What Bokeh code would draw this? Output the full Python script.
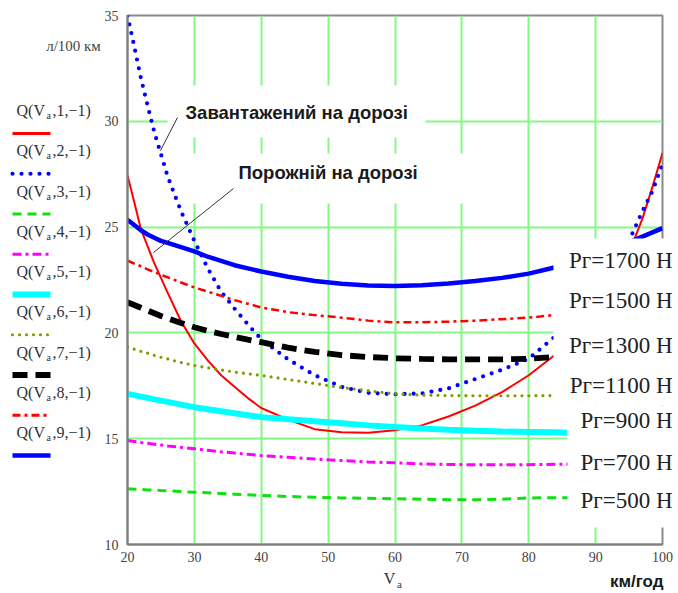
from bokeh.plotting import figure
from bokeh.models import Range1d, FixedTicker
from bokeh.embed import file_html
from bokeh.resources import INLINE
from bokeh.core.properties import value

# ---------------- data ----------------
x_ticks = [20, 30, 40, 50, 60, 70, 80, 90, 100]
y_ticks = [10, 15, 20, 25, 30, 35]

va = [20, 21, 22, 23, 24, 25, 26, 28, 30, 32, 34, 36, 38, 40, 44, 48, 52, 56, 60, 64, 68, 72, 76, 80, 84]
va_long = va + [86]
va_tail = [95.5, 97, 98.5, 100]

q1 = [27.44, 26.2, 24.9, 24.1, 23.3, 22.6, 21.9, 20.55, 19.5, 18.7, 18.0, 17.45, 16.92, 16.45,
      15.9, 15.45, 15.3, 15.28, 15.4, 15.63, 16.05, 16.56, 17.2, 18.0, 18.98]
q1_tail = [24.2, 25.4, 26.9, 28.5]
q2 = [35.0, 33.55, 32.05, 30.75, 29.5, 28.45, 27.4, 25.75, 24.35, 23.05, 21.95, 21.15, 20.4, 19.7,
      18.75, 18.0, 17.45, 17.17, 17.1, 17.14, 17.38, 17.82, 18.26, 18.78, 19.85]
q2_tail = [24.7, 25.75, 26.7, 28.0]
q3 = [12.63, 12.61, 12.6, 12.58, 12.57, 12.55, 12.54, 12.5, 12.47, 12.44, 12.41, 12.38, 12.35, 12.32,
      12.27, 12.23, 12.2, 12.18, 12.16, 12.14, 12.12, 12.11, 12.14, 12.2, 12.21, 12.21]
q4 = [14.91, 14.87, 14.82, 14.78, 14.74, 14.7, 14.66, 14.59, 14.52, 14.45, 14.38, 14.32, 14.26, 14.2,
      14.12, 14.04, 13.97, 13.9, 13.86, 13.81, 13.78, 13.77, 13.77, 13.77, 13.79, 13.8]
q5 = [17.12, 17.06, 16.99, 16.93, 16.86, 16.8, 16.74, 16.61, 16.49, 16.39, 16.3, 16.2, 16.11, 16.02,
      15.92, 15.82, 15.73, 15.63, 15.55, 15.48, 15.42, 15.37, 15.34, 15.32, 15.3, 15.28]
q6 = [19.33, 19.23, 19.13, 19.04, 18.94, 18.85, 18.77, 18.6, 18.46, 18.35, 18.25, 18.15, 18.07, 17.99,
      17.8, 17.61, 17.42, 17.27, 17.12, 17.06, 17.04, 17.03, 17.03, 17.03, 17.04]
q7 = [21.45, 21.32, 21.19, 21.06, 20.93, 20.8, 20.69, 20.47, 20.27, 20.1, 19.95, 19.81, 19.68, 19.56,
      19.3, 19.1, 18.95, 18.86, 18.8, 18.77, 18.75, 18.75, 18.75, 18.78, 18.87]
q8 = [23.42, 23.28, 23.15, 23.0, 22.88, 22.75, 22.63, 22.38, 22.15, 21.95, 21.75, 21.55, 21.38, 21.2,
      20.98, 20.84, 20.72, 20.58, 20.5, 20.5, 20.53, 20.58, 20.65, 20.72, 20.85]
q9 = [25.35, 25.1, 24.85, 24.65, 24.5, 24.35, 24.25, 24.05, 23.85, 23.6, 23.4, 23.2, 23.05, 22.9,
      22.65, 22.45, 22.32, 22.24, 22.22, 22.25, 22.33, 22.45, 22.6, 22.8, 23.1]
q9_tail = [24.35, 24.55, 24.75, 24.95]

force_labels = ["Рг=1700 Н", "Рг=1500 Н", "Рг=1300 Н", "Рг=1100 Н", "Рг=900 Н", "Рг=700 Н", "Рг=500 Н"]
note_loaded = "Завантажений на дорозі"
note_empty = "Порожній на дорозі"
y_unit = "л/100 км"
x_unit = "км/год"

# ---------------- styles ----------------
series = [
    (va, q1, va_tail, q1_tail),
    (va, q2, va_tail, q2_tail),
    (va_long, q3, None, None),
    (va_long, q4, None, None),
    (va_long, q5, None, None),
    (va, q6, None, None),
    (va, q7, None, None),
    (va, q8, None, None),
    (va, q9, va_tail, q9_tail),
]
styles = [
    dict(line_color="#FF0000", line_width=2, line_dash="solid"),
    dict(line_color="#0000FF", line_width=4.2, line_dash="0 9", line_cap="round"),
    dict(line_color="#10E010", line_width=3, line_dash="9 6"),
    dict(line_color="#FF00FF", line_width=3, line_dash="9 4 3 4"),
    dict(line_color="#00FFFF", line_width=6, line_dash="solid"),
    dict(line_color="#809B00", line_width=3.2, line_dash="0 7", line_cap="round"),
    dict(line_color="#000000", line_width=5.8, line_dash="15 8"),
    dict(line_color="#FF0000", line_width=2.5, line_dash="8 4 3 4"),
    dict(line_color="#0000FF", line_width=4.5, line_dash="solid"),
]

# ---------------- geometry ----------------
W, H = 676, 592
ML, MR, MT, MB = 127, W - 662, 15, H - 544
X0, X1 = x_ticks[0], x_ticks[-1]
Y0, Y1 = y_ticks[0], y_ticks[-1]
SX = (W - ML - MR) / (X1 - X0)
SY = (H - MT - MB) / (Y1 - Y0)


def px2x(px):
    return X0 + (px - ML) / SX


def py2y(py):
    return Y1 - (py - MT) / SY


p = figure(width=W, height=H, x_range=Range1d(X0, X1), y_range=Range1d(Y0, Y1),
           output_backend="svg", toolbar_location=None,
           min_border_left=ML, min_border_right=MR, min_border_top=MT, min_border_bottom=MB)
p.background_fill_color = "white"
p.border_fill_color = "white"
p.outline_line_color = "#8a8a8a"
p.outline_line_width = 2

for ax, ticks in ((p.xaxis, x_ticks), (p.yaxis, y_ticks)):
    ax.ticker = FixedTicker(ticks=ticks)
    ax.axis_line_color = "#808080"
    ax.axis_line_width = 2
    ax.major_tick_line_color = None
    ax.minor_tick_line_color = None
    ax.major_label_text_font = "Liberation Serif"
    ax.major_label_text_font_size = "14px"
    ax.major_label_text_color = "#444444"
p.xaxis.major_label_standoff = 1
p.yaxis.major_label_standoff = 3

p.xgrid.ticker = FixedTicker(ticks=x_ticks[1:-1])
p.ygrid.ticker = FixedTicker(ticks=y_ticks[1:-1])
for g in (p.xgrid, p.ygrid):
    g.grid_line_color = "#84F884"
    g.grid_line_width = 2

# data lines
for (xs, ys, xt, yt), st in zip(series, styles):
    p.line(xs, ys, **st)
    if xt is not None:
        p.line(xt, yt, **st)

# white text-region backgrounds (as in the original worksheet)
boxes = [
    (167, 425, 85, 137),
    (190, 480, 153, 203),
    (553, 700, 238, 405),
    (567, 700, 405, 527),
]
bl, br, bt, bb = zip(*boxes)
p.quad(left=[px2x(v) for v in bl], right=[px2x(v) for v in br],
       top=[py2y(v) for v in bt], bottom=[py2y(v) for v in bb],
       fill_color="white", line_color=None, level="overlay")

# leader lines
p.segment(x0=[px2x(177), px2x(233)], y0=[py2y(117), py2y(188)],
          x1=[px2x(160), px2x(153)], y1=[py2y(150), py2y(252)],
          line_color="#333333", line_width=1, level="overlay")


def put_text(xs, ys, texts, font, size, color="#222222", align="left", style="normal"):
    p.text(x=xs, y=ys, text=texts, text_font=value(font), text_font_size=value(size),
           text_color=color, text_align=align, text_baseline="middle",
           text_font_style=style, level="overlay")


NOTE_FONT = "Liberation Sans"
put_text([px2x(185), px2x(238)], [py2y(112), py2y(172)], [note_loaded, note_empty],
         NOTE_FONT, "18.5px", "#1a1a1a", style="bold")

force_y = [260, 300, 345, 385, 420, 462, 500]
put_text([px2x(672)] * len(force_labels), [py2y(v) for v in force_y], force_labels,
         "Liberation Serif", "23px", "#222222", align="right")

# legend (left of plot)
leg_ty = [110 + 40.25 * i for i in range(len(styles))]
put_text([px2x(16)] * 9, [py2y(t) for t in leg_ty], ["Q(V"] * 9, "Liberation Serif", "16px", "#333333")
put_text([px2x(46)] * 9, [py2y(t + 5) for t in leg_ty], ["a"] * 9, "Liberation Serif", "10px", "#333333")
put_text([px2x(52)] * 9, [py2y(t) for t in leg_ty], [f",{i + 1},\u22121)" for i in range(9)],
         "Liberation Serif", "16px", "#333333")
for t, st in zip(leg_ty, styles):
    lw = max(st["line_width"], 3)
    p.line([px2x(12), px2x(50)], [py2y(t + 23), py2y(t + 23)], level="overlay",
           **{**st, "line_width": lw})

# axis captions
put_text([px2x(73)], [py2y(45)], [y_unit], "Liberation Serif", "15px", "#444444", align="center")
put_text([px2x(389)], [py2y(578)], ["V"], "Liberation Serif", "16px", "#333333", align="center")
put_text([px2x(399)], [py2y(583)], ["a"], "Liberation Serif", "11px", "#333333", align="center")
put_text([px2x(663)], [py2y(581)], [x_unit], NOTE_FONT, "17px", "#1a1a1a", align="right", style="bold")

open("out.html", "w").write(file_html(p, INLINE))
